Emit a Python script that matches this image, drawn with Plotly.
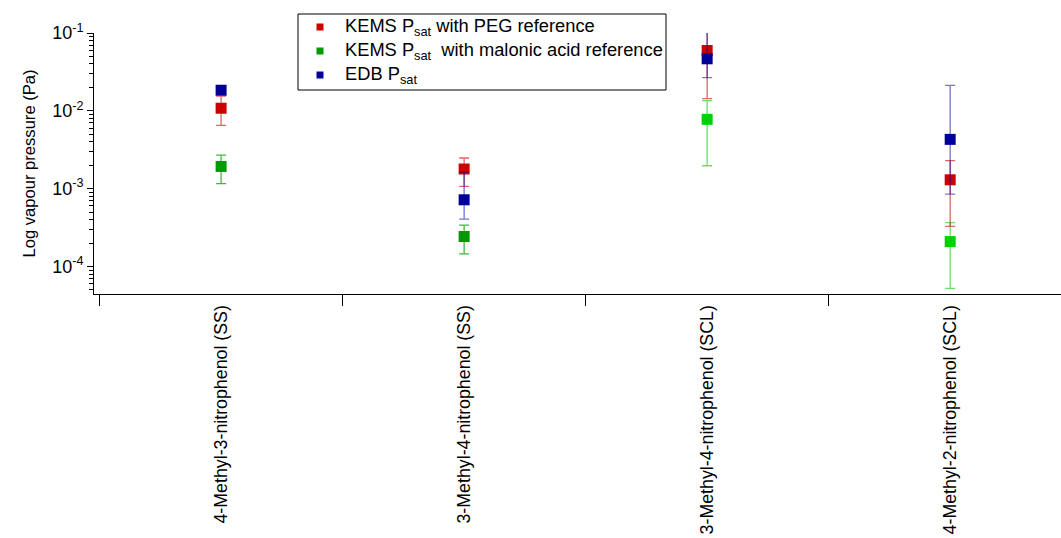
import plotly.graph_objects as go

categories = ["4-Methyl-3-nitrophenol (SS)", "3-Methyl-4-nitrophenol (SS)",
              "3-Methyl-4-nitrophenol (SCL)", "4-Methyl-2-nitrophenol (SCL)"]

# KEMS with PEG reference
peg_val = [0.0108, 0.00179, 0.0596, 0.0013]
peg_hi = [0.0155, 0.00248, 0.1035, 0.00229]
peg_lo = [0.0065, 0.00107, 0.01435, 0.000327]

# KEMS with malonic acid reference
mal_val = [0.00193, 0.000243, 0.00778, 0.000209]
mal_hi = [0.0027, 0.00034, 0.0135, 0.000367]
mal_lo = [0.00116, 0.000145, 0.00197, 0.0000525]

# EDB
edb_val = [0.0184, 0.00072, 0.0466, 0.0043]
edb_hi = [0.0184, 0.00163, 0.105, 0.0213]
edb_lo = [0.0184, 0.000407, 0.0267, 0.00085]

y_tickvals = [1e-4, 1e-3, 1e-2, 1e-1]
y_ticktext = ["10<sup>-4</sup>", "10<sup>-3</sup>", "10<sup>-2</sup>", "10<sup>-1</sup>"]

legend_names = ["KEMS P<sub>sat</sub> with PEG reference",
                "KEMS P<sub>sat</sub>  with malonic acid reference",
                "EDB P<sub>sat</sub>"]
legend_colors = ["#cc0000", "#009a00", "#000099"]

FONT = "Liberation Sans, Arial, sans-serif"
W, H = 1061, 538
ML, MR, MT, MB = 94, 0, 33, 244
PW, PH = W - ML - MR, H - MT - MB
xs = list(range(len(categories)))


def px(xp):
    return (xp - ML) / PW


def py(yp):
    return (H - MB - yp) / PH


def err(vals, hi, lo):
    return ([h - v for v, h in zip(vals, hi)], [v - l for v, l in zip(vals, lo)])


fig = go.Figure()


def add_series(idx, vals, hi, lo, mcolor, ecolor):
    up, dn = err(vals, hi, lo)
    fig.add_trace(go.Scatter(
        x=[xs[i] for i in idx], y=[vals[i] for i in idx], mode="markers",
        marker=dict(symbol="square", size=11, color=mcolor, line=dict(width=0)),
        error_y=dict(type="data", symmetric=False, array=[up[i] for i in idx],
                     arrayminus=[dn[i] for i in idx], color=ecolor, thickness=1.3, width=5),
        showlegend=False, hoverinfo="y"))


add_series([0, 1], mal_val, mal_hi, mal_lo, "#009a00", "rgba(0,160,0,0.75)")
add_series([2, 3], mal_val, mal_hi, mal_lo, "#00d200", "rgba(40,210,40,0.7)")
add_series([0, 1, 2, 3], peg_val, peg_hi, peg_lo, "#cc0000", "rgba(204,0,0,0.6)")
add_series([1, 2, 3], edb_val, edb_hi, edb_lo, "#000099", "rgba(0,0,170,0.55)")
add_series([0], edb_val, edb_val, edb_val, "#000099", "rgba(0,0,170,0.55)")

# manual legend box
shapes = [dict(type="rect", xref="paper", yref="paper", x0=px(298), x1=px(666),
               y0=py(90), y1=py(14), line=dict(color="black", width=1),
               fillcolor="white", layer="above")]
annotations = []
for i, (name, c) in enumerate(zip(legend_names, legend_colors)):
    yc = 27 + 24 * i
    shapes.append(dict(type="rect", xref="paper", yref="paper",
                       x0=px(316.5), x1=px(323.5), y0=py(yc + 3.5), y1=py(yc - 3.5),
                       line=dict(width=0), fillcolor=c, layer="above"))
    annotations.append(dict(text=name, xref="paper", yref="paper", x=px(343), y=py(yc - 0.5),
                            xanchor="left", yanchor="middle", showarrow=False,
                            font=dict(size=18.3, family=FONT, color="black")))

fig.update_layout(
    width=W, height=H,
    margin=dict(l=ML, r=MR, t=MT, b=MB),
    plot_bgcolor="white", paper_bgcolor="white",
    font=dict(family=FONT, size=18, color="black"),
    showlegend=False,
    shapes=shapes, annotations=annotations,
    xaxis=dict(
        range=[-0.523, 3.456], tickmode="array", tickvals=xs, ticktext=categories,
        tickangle=-90, ticks="", ticklabelstandoff=3, showline=True, linecolor="black",
        linewidth=1, showgrid=False, zeroline=False, tickfont=dict(size=17.8),
        automargin=False,
        minor=dict(tickmode="array", tickvals=[-0.5, 0.5, 1.5, 2.5], ticks="outside",
                   ticklen=11, tickcolor="black", tickwidth=1, showgrid=False)),
    yaxis=dict(
        type="log", range=[-4.353, -1.0], tickmode="array", tickvals=y_tickvals,
        ticktext=y_ticktext, ticks="outside", ticklen=6, tickcolor="black",
        showline=True, linecolor="black", linewidth=1, showgrid=False, zeroline=False,
        tickfont=dict(size=18), automargin=False,
        title=dict(text="Log vapour pressure (Pa)", font=dict(size=16.6), standoff=12),
        minor=dict(tickmode="array",
                   tickvals=[m * 10.0 ** e for e in range(-5, -1) for m in range(2, 10)],
                   ticks="outside", ticklen=4, tickcolor="black", showgrid=False)),
)

fig.write_html("out.html")
